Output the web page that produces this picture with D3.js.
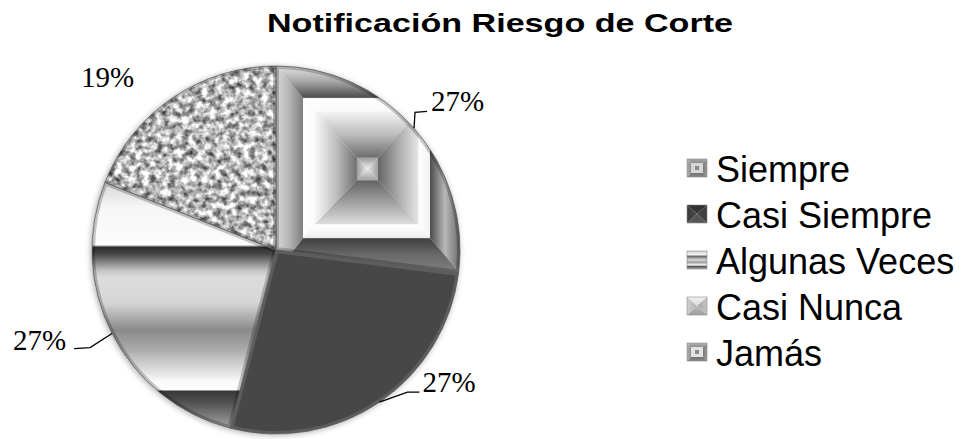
<!DOCTYPE html>
<html>
<head>
<meta charset="utf-8">
<script src="https://cdn.jsdelivr.net/npm/d3@7"></script>
<style>
  body { margin: 0; background: #fff; }
  svg { display: block; }
</style>
</head>
<body>
<div id="chart"></div>
<script>
// data
const categories = ["Siempre", "Casi Siempre", "Algunas Veces", "Casi Nunca", "Jamás"];
const values = [27, 27, 27, 0, 19];
const percentLabels = ["27%", "27%", "27%", "0%", "19%"];
const chartTitle = "Notificación Riesgo de Corte";

const width = 967, height = 439;
const cx = 276, cy = 250, radius = 184;

// where Excel put the data labels, relative to the slice edge point
const labelLayout = [
  { elbow: [1, -16], end: [13, -17], text: [17, -17], anchor: "start" },
  { elbow: [28, -10], end: [40, -10], text: [43, -10], anchor: "start" },
  { elbow: [-22, 14], end: [-38, 15], text: [-46, 16], anchor: "end" },
  null,
  { elbow: null, end: null, text: [-65, -11], anchor: "middle" }
];

const svg = d3.select("#chart").append("svg")
  .attr("width", width)
  .attr("height", height);

const defs = svg.append("defs");
let gradCount = 0;

function linGrad(stops, x1, y1, x2, y2) {
  const id = "g" + (gradCount++);
  const g = defs.append("linearGradient").attr("id", id)
    .attr("x1", x1).attr("y1", y1).attr("x2", x2).attr("y2", y2);
  stops.forEach((c, i) => {
    g.append("stop")
      .attr("offset", Array.isArray(c) ? c[0] : i / (stops.length - 1))
      .attr("stop-color", Array.isArray(c) ? c[1] : c);
  });
  return "url(#" + id + ")";
}

// four trapezoids between an outer and an inner rectangle, each shaded inwards
function bevel(g, o, inn, cols) {
  const [x0, y0, x1, y1] = o, [a0, b0, a1, b1] = inn;
  const sides = [
    { pts: [[x0, y0], [x1, y0], [a1, b0], [a0, b0]], c: cols.top, dir: [0, 0, 0, 1] },
    { pts: [[x1, y0], [x1, y1], [a1, b1], [a1, b0]], c: cols.right, dir: [1, 0, 0, 0] },
    { pts: [[x1, y1], [x0, y1], [a0, b1], [a1, b1]], c: cols.bottom, dir: [0, 1, 0, 0] },
    { pts: [[x0, y1], [x0, y0], [a0, b0], [a0, b1]], c: cols.left, dir: [0, 0, 1, 0] }
  ];
  sides.forEach(s => {
    g.append("polygon")
      .attr("points", s.pts.map(p => p.join(",")).join(" "))
      .attr("fill", linGrad(s.c, ...s.dir))
      .attr("stroke", "none");
  });
}

// "Siempre" picture fill: framed pyramid
const patSiempre = defs.append("pattern").attr("id", "patSiempre")
  .attr("patternUnits", "objectBoundingBox")
  .attr("patternContentUnits", "objectBoundingBox")
  .attr("width", 1).attr("height", 1);
bevel(patSiempre, [0, 0, 1, 1], [0.147, 0.155, 0.837, 0.83], {
  top: ["#e4e4e4", "#a4a4a4", "#4a4a4a"],
  right: ["#6a6a6a", "#b8b8b8", "#4c4c4c"],
  bottom: ["#808080", "#6a6a6a", "#3e3e3e"],
  left: ["#d8d8d8", "#b4b4b4", "#7e7e7e"]
});
bevel(patSiempre, [0.147, 0.155, 0.837, 0.83], [0.21, 0.22, 0.774, 0.765], {
  top: ["#ffffff", "#fafafa"], right: ["#f2f2f2", "#ffffff"],
  bottom: ["#f0f0f0", "#ffffff"], left: ["#ffffff", "#fbfbfb"]
});
bevel(patSiempre, [0.21, 0.22, 0.774, 0.765], [0.44, 0.444, 0.554, 0.55], {
  top: ["#f4f4f4", "#bcbcbc", "#6c6c6c"], right: ["#e6e6e6", "#aaaaaa", "#666666"],
  bottom: ["#dedede", "#a0a0a0", "#626262"], left: ["#f8f8f8", "#c0c0c0", "#707070"]
});
bevel(patSiempre, [0.44, 0.444, 0.554, 0.55], [0.495, 0.495, 0.499, 0.499], {
  top: ["#9a9a9a", "#eeeeee"], right: ["#a0a0a0", "#e4e4e4"],
  bottom: ["#a4a4a4", "#e0e0e0"], left: ["#9c9c9c", "#eaeaea"]
});

// "Algunas Veces": horizontal bands
const stripeFill = linGrad([
  [0, "#d6d6d6"], [0.1, "#f6f6f6"], [0.255, "#fcfcfc"], [0.264, "#2e2e2e"],
  [0.29, "#444444"], [0.36, "#c6c6c6"], [0.39, "#dcdcdc"], [0.49, "#d6d6d6"],
  [0.6, "#8a8a8a"], [0.68, "#ababab"], [0.81, "#fafafa"], [0.843, "#ffffff"],
  [0.85, "#383838"], [0.9, "#555555"], [1, "#a4a4a4"]
], 0, 0, 0, 1);

// "Jamás": granite
const granite = defs.append("filter").attr("id", "granite")
  .attr("x", 0).attr("y", 0).attr("width", 1).attr("height", 1)
  .attr("color-interpolation-filters", "sRGB");
granite.append("feTurbulence").attr("type", "fractalNoise")
  .attr("baseFrequency", 0.15).attr("numOctaves", 3).attr("seed", 7);
granite.append("feColorMatrix").attr("type", "matrix")
  .attr("values", "1.45 0 0 0 0.0  1.45 0 0 0 0.0  1.45 0 0 0 0.0  0 0 0 0 1");
granite.append("feGaussianBlur").attr("stdDeviation", 0.5);
granite.append("feComposite").attr("operator", "in").attr("in2", "SourceGraphic");

const shadow = defs.append("filter").attr("id", "shadow")
  .attr("x", -0.1).attr("y", -0.1).attr("width", 1.2).attr("height", 1.2);
shadow.append("feGaussianBlur").attr("in", "SourceAlpha").attr("stdDeviation", 3);
shadow.append("feOffset").attr("dx", -1).attr("dy", 1).attr("result", "b");
shadow.append("feComponentTransfer").append("feFuncA").attr("type", "linear").attr("slope", 0.35);
const sm = shadow.append("feMerge");
sm.append("feMergeNode");
sm.append("feMergeNode").attr("in", "SourceGraphic");

const sliceFills = ["url(#patSiempre)", "#474747", stripeFill, "#d0d0d0", "#b0b0b0"];

// title
svg.append("text")
  .attr("x", 500).attr("y", 32)
  .attr("text-anchor", "middle")
  .attr("font-family", "Liberation Sans, Arial, sans-serif")
  .attr("font-weight", "bold")
  .attr("font-size", 25)
  .attr("textLength", 466)
  .attr("lengthAdjust", "spacingAndGlyphs")
  .text(chartTitle);

// pie
const data = categories.map((c, i) => ({ name: c, value: values[i], label: percentLabels[i], i }));
const pie = d3.pie().sort(null).value(d => d.value);
const arcs = pie(data);
const arc = d3.arc().innerRadius(0).outerRadius(radius);
const edgeArc = d3.arc().innerRadius(radius).outerRadius(radius);

const g = svg.append("g").attr("transform", `translate(${cx},${cy})`);

// soft shadow behind the disc
g.append("circle").attr("r", radius).attr("fill", "#fff").attr("filter", "url(#shadow)");

const slices = g.selectAll("g.slice")
  .data(arcs.filter(d => d.data.value > 0))
  .enter().append("g").attr("class", "slice");

slices.append("clipPath")
  .attr("id", d => "clip" + d.data.i)
  .append("path").attr("d", arc);

slices.append("path")
  .attr("d", arc)
  .attr("fill", d => sliceFills[d.data.i])
  .attr("filter", d => d.data.name === "Jamás" ? "url(#granite)" : null);

// bevel rim
slices.append("path")
  .attr("d", arc)
  .attr("clip-path", d => `url(#clip${d.data.i})`)
  .attr("fill", "none")
  .attr("stroke", d => d.data.i === 1 ? "rgba(255,255,255,0.12)" : "rgba(0,0,0,0.22)")
  .attr("stroke-width", 6);

slices.append("path")
  .attr("d", arc)
  .attr("fill", "none")
  .attr("stroke", "#5a5a5a")
  .attr("stroke-width", 0.8);

// data labels
const labels = g.selectAll("g.lbl")
  .data(arcs.filter(d => labelLayout[d.data.i]))
  .enter().append("g").attr("class", "lbl");

labels.each(function (d) {
  const L = labelLayout[d.data.i];
  const p = edgeArc.centroid(d);
  const sel = d3.select(this);
  if (L.elbow) {
    sel.append("path")
      .attr("d", d3.line()([p, [p[0] + L.elbow[0], p[1] + L.elbow[1]], [p[0] + L.end[0], p[1] + L.end[1]]]))
      .attr("fill", "none")
      .attr("stroke", "#000")
      .attr("stroke-width", 1.3);
  }
  sel.append("text")
    .attr("x", p[0] + L.text[0])
    .attr("y", p[1] + L.text[1])
    .attr("text-anchor", L.anchor)
    .attr("font-family", "Liberation Serif, Times New Roman, serif")
    .attr("font-size", 29)
    .text(d.data.label);
});

// legend
const legend = svg.append("g").attr("transform", "translate(687,170)");
const rowGap = 46;
const iconW = 20, iconH = 18;

function drawIcon(gi, i) {
  const o = [0, 0, iconW, iconH];
  if (i === 0 || i === 4) {
    const lt = i === 4 ? 12 : 0;
    bevel(gi, o, [4, 4, 16, 14], {
      top: [d3.rgb(170 + lt, 170 + lt, 170 + lt), "#8a8a8a"], right: ["#999", "#7a7a7a"],
      bottom: ["#888", "#707070"], left: ["#b4b4b4", "#8c8c8c"]
    });
    gi.append("rect").attr("x", 4).attr("y", 4).attr("width", 12).attr("height", 10)
      .attr("fill", i === 4 ? "#e2e2e2" : "#d6d6d6");
    gi.append("rect").attr("x", 8).attr("y", 7).attr("width", 4).attr("height", 4).attr("fill", "#8a8a8a");
  } else if (i === 1) {
    bevel(gi, o, [10, 9, 10, 9], {
      top: ["#2e2e2e", "#3c3c3c"], right: ["#3a3a3a", "#484848"],
      bottom: ["#5a5a5a", "#505050"], left: ["#3a3a3a", "#484848"]
    });
  } else if (i === 2) {
    gi.append("rect").attr("width", iconW).attr("height", iconH)
      .attr("fill", linGrad([[0, "#cfcfcf"], [0.2, "#f4f4f4"], [0.3, "#6a6a6a"], [0.5, "#dcdcdc"],
        [0.62, "#9a9a9a"], [0.78, "#f8f8f8"], [0.86, "#5a5a5a"], [1, "#aaaaaa"]], 0, 0, 0, 1));
  } else {
    bevel(gi, o, [10, 9, 10, 9], {
      top: ["#f2f2f2", "#d8d8d8"], right: ["#c4c4c4", "#a8a8a8"],
      bottom: ["#a0a0a0", "#b8b8b8"], left: ["#d0d0d0", "#b0b0b0"]
    });
  }
  gi.append("rect").attr("width", iconW).attr("height", iconH)
    .attr("fill", "none").attr("stroke", "#8a8a8a").attr("stroke-width", 0.6);
}

const rows = legend.selectAll("g.row")
  .data(categories)
  .enter().append("g").attr("class", "row")
  .attr("transform", (d, i) => `translate(0,${i * rowGap})`);

rows.each(function (d, i) {
  const gi = d3.select(this).append("g").attr("transform", `translate(0,${-iconH / 2 - 2})`);
  drawIcon(gi, i);
});

rows.append("text")
  .attr("x", 29)
  .attr("y", 12)
  .attr("font-family", "Liberation Sans, Arial, sans-serif")
  .attr("font-size", 36)
  .text(d => d);
</script>
</body>
</html>
